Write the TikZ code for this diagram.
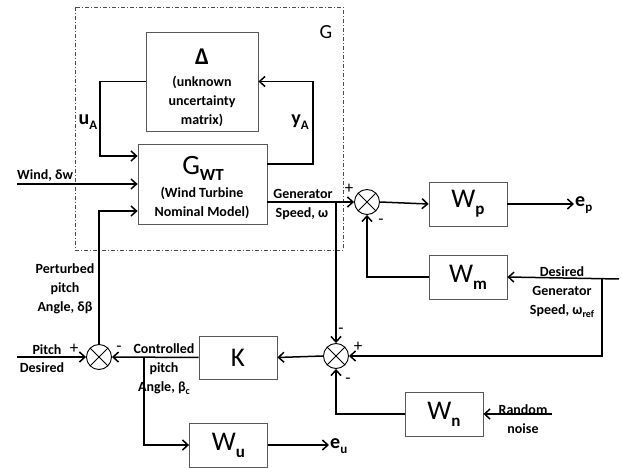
\documentclass[tikz,border=0pt]{standalone}
\usepackage{fontspec}
\setmainfont{Carlito}
\usetikzlibrary{arrows.meta}
\newcommand{\lowsub}[2][-4pt]{\raisebox{#1}{\fontsize{10}{10}\selectfont\bfseries #2}}
\newcommand{\midsub}[1]{\raisebox{-5pt}{\fontsize{13}{13}\selectfont\bfseries #1}}
\newcommand{\bigsub}[1]{\raisebox{-7pt}{\fontsize{17}{17}\selectfont\bfseries #1}}
\begin{document}
\begin{tikzpicture}[x=1pt,y=-1pt,
  blk/.style={draw=black!65, line width=0.8pt, inner sep=0pt, minimum width=78pt, minimum height=44pt,
    font=\fontsize{27}{27}\selectfont},
  sumc/.style={circle, draw, line width=0.9pt, minimum size=25pt, inner sep=0pt,
    path picture={\draw[line width=0.9pt]
      (path picture bounding box.north west)--(path picture bounding box.south east)
      (path picture bounding box.north east)--(path picture bounding box.south west);}},
  sig/.style={line width=1.5pt, -{Straight Barb[length=5.5pt,width=10pt,line width=1.5pt]}},
  wire/.style={line width=1.5pt},
  lab/.style={inner sep=0pt, align=center, font=\fontsize{14}{19}\selectfont\bfseries},
  siglab/.style={inner sep=0pt, font=\fontsize{20}{20}\selectfont\bfseries},
  sgn/.style={inner sep=0pt, font=\fontsize{17}{17}\selectfont}
]
\useasboundingbox (0,0) rectangle (622,468);
% dashed G region
\draw[black!70, line width=0.7pt, dash pattern=on 4pt off 2pt on 1pt off 2pt] (75,7) rectangle (343,250);
\node[inner sep=0pt, font=\fontsize{20}{20}\selectfont] (Glab) at (326,32) {G};

% blocks
\node[blk, minimum width=112pt, minimum height=99pt] (Delta) at (202,81.5) {};
\node[lab, font=\fontsize{24}{24}\selectfont\bfseries] (DeltaSym) at (202,57) {Δ};
\node[lab] (DeltaTxt) at (202,101) {(unknown\\uncertainty\\matrix)};

\node[blk, minimum width=129pt, minimum height=80pt] (GWT) at (202.5,184) {};
\node[inner sep=0pt, font=\fontsize{28}{28}\selectfont] (GWTsym) at (203,168) {G\raisebox{-6pt}{\fontsize{17}{17}\selectfont\bfseries WT}};
\node[lab] (GWTtxt) at (202,203) {(Wind Turbine\\Nominal Model)};

\node[blk] (Wp) at (468,204) {W\bigsub{p}};
\node[blk] (Wm) at (468,277) {W\bigsub{m}};
\node[blk, minimum height=43pt] (K) at (238,357.5) {K};
\node[blk] (Wu) at (228.5,445) {W\bigsub{u}};
\node[blk] (Wn) at (444,414) {W\bigsub{n}};

% summing junctions
\node[sumc] (sum3) at (367,202) {};
\node[sumc] (sum1) at (99,357) {};
\node[sumc] (sum2) at (336,356) {};

% coordinates for free ends and corners
\coordinate (ya) at (313,81.5);
\coordinate (ua) at (100,81.5);
\coordinate (windin) at (17,184);
\coordinate (br1) at (336,202);
\coordinate (ep) at (574,204);
\coordinate (wref) at (619,279);
\coordinate (wrefj) at (602,279);
\coordinate (br2) at (144,357.5);
\coordinate (eu) at (329,445);
\coordinate (noise) at (552,414);
\coordinate (pd) at (17,357);

% connectors
\draw[wire] (Delta.west) -- (ua);
\draw[sig] (ua) |- ([yshift=28pt]GWT.west);
\draw[wire] ([yshift=20pt]GWT.east) -| (ya);
\draw[sig] (ya) -- (Delta.east);
\draw[sig] (windin) -- (GWT.west);
\draw[sig] ([yshift=-18pt]GWT.east) -- (sum3.west);
\draw[sig] (br1) -- (sum2.north);
\draw[sig] (sum3.east) -- (Wp.west);
\draw[sig] (Wp.east) -- (ep);
\draw[sig] (Wm.west) -| (sum3.south);
\draw[sig] (wref) -- (Wm.east);
\draw[sig] (wrefj) |- (sum2.east);
\draw[sig] (sum2.west) -- (K.east);
\draw[sig] (K.west) -- (sum1.east);
\draw[sig] (br2) |- (Wu.west);
\draw[sig] (Wu.east) -- (eu);
\draw[sig] (Wn.west) -| (sum2.south);
\draw[sig] (noise) -- (Wn.east);
\draw[sig] (pd) -- (sum1.west);
\draw[sig] (sum1.north) |- ([yshift=-27pt]GWT.west);

% labels
\node[siglab] (ualab) at (88,122) {u\midsub{A}};
\node[siglab] (yalab) at (300,122) {y\midsub{A}};
\node[lab, anchor=south west] (windlab) at (17,182) {Wind, δw};
\node[lab] (gen1) at (303,194) {Generator};
\node[lab] (gen2) at (302,214) {Speed, ω};
\node[sgn] (p3) at (349,189) {+};
\node[sgn] (m3) at (381,222) {-};
\node[lab] (pert) at (65,289) {Perturbed\\pitch\\Angle, δβ};
\node[lab] (pitch) at (47,350) {Pitch};
\node[lab] (desired) at (42,368) {Desired};
\node[sgn] (p1) at (74,349) {+};
\node[sgn] (m1) at (119,349) {-};
\node[lab] (ctrl) at (164,369) {Controlled\\pitch\\Angle, β\lowsub[-3pt]{c}};
\node[sgn] (m2a) at (341,331) {-};
\node[sgn] (p2) at (358,347) {+};
\node[sgn] (m2b) at (348,381) {-};
\node[siglab, anchor=west] (eulab) at (330,446) {e\midsub{u}};
\node[siglab, anchor=west] (eplab) at (575,205) {e\midsub{p}};
\node[lab] (dgs) at (562,292) {Desired\\Generator\\Speed, ω\lowsub[-3pt]{ref}};
\node[lab] (rn) at (523,419) {Random\\noise};
\end{tikzpicture}
\end{document}
